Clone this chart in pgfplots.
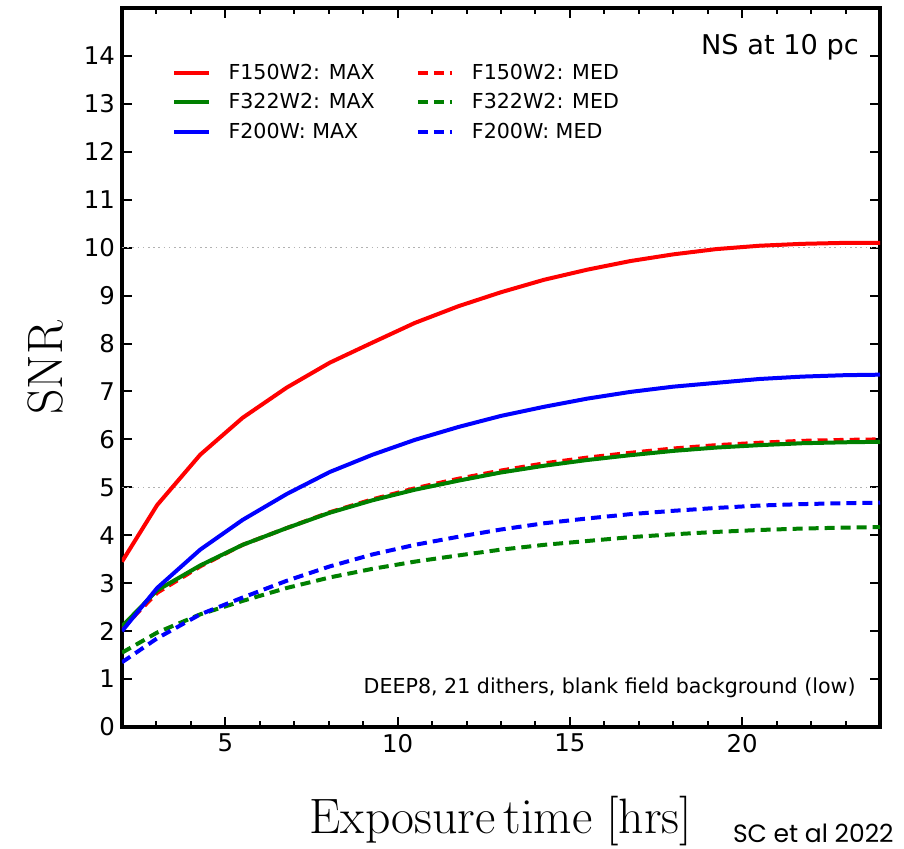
\documentclass[border=0pt]{standalone}
\usepackage{pgfplots}
\pgfplotsset{compat=1.18}
\usepackage[no-math]{fontspec}
\setmainfont{DejaVu Sans}
\newfontfamily\credfont{Poppins}
\definecolor{cred}{RGB}{255,0,0}
\definecolor{cgreen}{RGB}{0,128,0}
\definecolor{cblue}{RGB}{0,0,255}

\begin{document}
\begin{tikzpicture}
\begin{axis}[
  scale only axis, width=379pt, height=359.5pt,
  xmin=2, xmax=24, ymin=0, ymax=15,
  xtick={5,10,15,20}, minor xtick={3,4,...,23},
  ytick={0,1,...,14},
  tick align=inside, tick pos=both,
  major tick length=5pt, minor tick length=3pt,
  every tick/.style={black, line width=1pt},
  axis line style={line width=1.6pt},
  /pgf/number format/assume math mode=true,
  tick label style={font=\fontsize{12.2}{14}\selectfont},
  xlabel={$\mathrm{Exposure\,time\;[hrs]}$},
  ylabel={$\mathrm{SNR}$},
  label style={font=\fontsize{24}{26}\selectfont},
  xlabel style={yshift=-15pt},
  ylabel style={yshift=4pt},
  legend columns=2,
  legend cell align=left,
  legend style={draw=none, fill=none, at={(0.058,0.934)}, anchor=north west,
    font=\fontsize{10.3}{12}\selectfont, row sep=1.6pt,
    /tikz/every odd column/.append style={column sep=7pt},
    /tikz/every even column/.append style={column sep=18.5pt}},
  every axis plot/.append style={line width=2pt},
]
\addplot[gray!60, line width=0.8pt, dash pattern=on 0.8pt off 1.8pt, forget plot] coordinates {(2,5)(24,5)};
\addplot[gray!60, line width=0.8pt, dash pattern=on 0.8pt off 1.8pt, forget plot] coordinates {(2,10)(24,10)};

% F150W2 max
\addplot[cred] coordinates {
(2,3.45)(3.02,4.63)(4.27,5.68)(5.5,6.45)(6.78,7.08)(8.03,7.6)(9.27,8.02)(10.5,8.43)
(11.77,8.78)(13,9.07)(14.25,9.33)(15.5,9.54)(16.75,9.72)(18,9.86)(19.25,9.97)
(20.5,10.04)(21.75,10.08)(23,10.1)(24,10.1)};
\addlegendentry{F150W2: MAX}
% F150W2 med
\addplot[cred, dash pattern=on 5pt off 3pt] coordinates {
(2,2.05)(3.02,2.8)(4.27,3.35)(5.5,3.8)(6.78,4.15)(8.03,4.48)(9.27,4.75)(10.5,4.98)
(11.77,5.18)(13,5.35)(14.25,5.5)(15.5,5.62)(16.75,5.72)(18,5.81)(19.25,5.88)
(20.5,5.93)(21.75,5.97)(23,5.99)(24,6.0)};
\addlegendentry{F150W2: MED}
% F322W2 max
\addplot[cgreen] coordinates {
(2,2.1)(3.02,2.85)(4.27,3.37)(5.5,3.8)(6.78,4.15)(8.03,4.47)(9.27,4.73)(10.5,4.95)
(11.77,5.14)(13,5.31)(14.25,5.45)(15.5,5.57)(16.75,5.67)(18,5.76)(19.25,5.83)
(20.5,5.88)(21.75,5.92)(23,5.94)(24,5.95)};
\addlegendentry{F322W2: MAX}
% F322W2 med
\addplot[cgreen, dash pattern=on 5pt off 3pt] coordinates {
(2,1.55)(3.02,1.97)(4.27,2.35)(5.5,2.63)(6.78,2.9)(8.03,3.12)(9.27,3.3)(10.5,3.45)
(11.77,3.58)(13,3.7)(14.25,3.8)(15.5,3.88)(16.75,3.96)(18,4.02)(19.25,4.07)
(20.5,4.11)(21.75,4.14)(23,4.16)(24,4.17)};
\addlegendentry{F322W2: MED}
% F200W max
\addplot[cblue] coordinates {
(2,2.0)(3.02,2.9)(4.27,3.7)(5.5,4.32)(6.78,4.86)(8.03,5.32)(9.27,5.68)(10.5,5.99)
(11.77,6.26)(13,6.49)(14.25,6.68)(15.5,6.85)(16.75,6.99)(18,7.1)(19.25,7.18)
(20.5,7.26)(21.75,7.31)(23,7.34)(24,7.35)};
\addlegendentry{F200W: MAX}
% F200W med
\addplot[cblue, dash pattern=on 5pt off 3pt] coordinates {
(2,1.35)(3.02,1.85)(4.27,2.35)(5.5,2.7)(6.78,3.05)(8.03,3.35)(9.27,3.6)(10.5,3.8)
(11.77,3.97)(13,4.12)(14.25,4.25)(15.5,4.35)(16.75,4.44)(18,4.51)(19.25,4.57)
(20.5,4.62)(21.75,4.65)(23,4.67)(24,4.68)};
\addlegendentry{F200W: MED}

\node[font=\fontsize{13.6}{15}\selectfont, anchor=center] at (rel axis cs:0.868,0.946) {NS at 10 pc};
\node[font=\fontsize{10.3}{12}\selectfont, anchor=east] at (rel axis cs:0.977,0.054) {DEEP8, 21 dithers, blank field background (low)};
\coordinate (sw) at (rel axis cs:0,0);
\coordinate (cred) at (rel axis cs:0.912,-0.148);
\end{axis}
\node[font=\credfont\fontsize{12.5}{14}\selectfont, anchor=center] at (cred) {SC et al 2022};
\pgfresetboundingbox
\path (sw) ++(-61pt,-61pt) rectangle ++(452pt,424.5pt);
\end{tikzpicture}
\end{document}
